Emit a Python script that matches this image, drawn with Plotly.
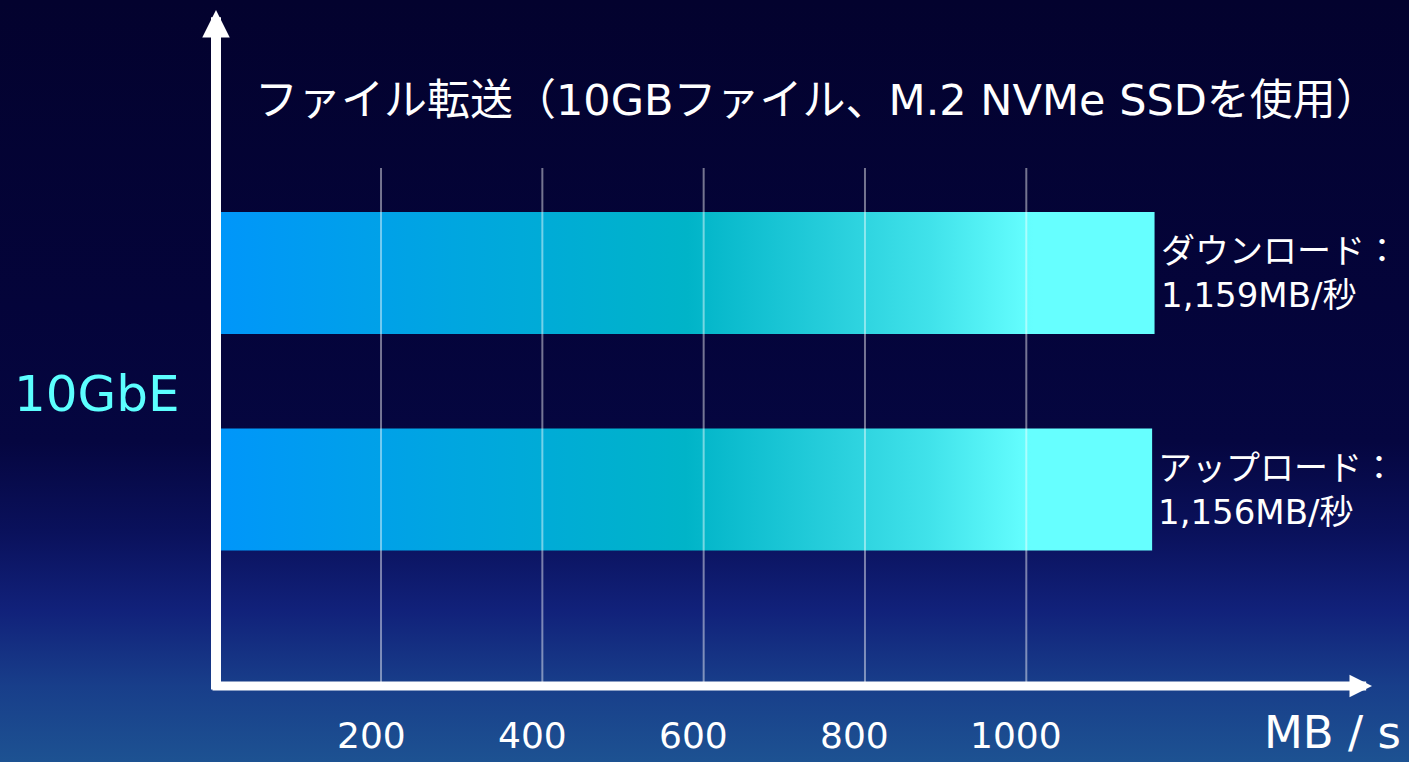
import plotly.graph_objects as go

# --- data -------------------------------------------------------------
channels = ["ダウンロード", "アップロード"]
speeds = [1159, 1156]                      # MB/s
speed_labels = ["1,159MB/秒", "1,156MB/秒"]
ticks = [200, 400, 600, 800, 1000]
title_text = "ファイル転送（10GBファイル、M.2 NVMe SSDを使用）"
group_label = "10GbE"
unit_label = "MB / s"

# --- look ---------------------------------------------------------------
W, H = 1409, 762
FONT = "DejaVu Sans, Noto Sans CJK JP, sans-serif"
WHITE = "#ffffff"
CYAN = "#5cffff"
BG_SCALE = [[0, "#1d5292"], [0.1, "#183e8a"], [0.2, "#11217a"],
            [0.3, "#0a115c"], [0.42, "#050640"], [0.6, "#04043a"], [1, "#03022e"]]
BAR_SCALE = [[0, "#0096fa"], [0.25, "#00a6e0"], [0.5, "#00b4c8"],
             [0.66, "#28cfdc"], [0.76, "#40e2ea"], [0.87, "#66ffff"], [1, "#66ffff"]]

# zero margins, so paper coords are just pixels / size
X0_PX, PX_PER_UNIT = 219.7, 0.8066
xr = [-X0_PX / PX_PER_UNIT, (W - X0_PX) / PX_PER_UNIT]
ROW_PX, TOP_ROW_PX = 216.5, 273
n = len(channels)
yr = [(n - 1) - (H - TOP_ROW_PX) / ROW_PX, (n - 1) + TOP_ROW_PX / ROW_PX]
HALF = 61 / ROW_PX


def px_x(p):
    return p / W


def px_y(p):
    return 1 - p / H


def label(text, x, y, size, color=WHITE, **kw):
    opts = dict(xref="paper", yref="paper", xanchor="center", yanchor="middle")
    opts.update(kw)
    fig.add_annotation(x=x, y=y, text=text, showarrow=False,
                       font=dict(family=FONT, size=size, color=color), **opts)


fig = go.Figure()

# background wash
fig.add_trace(go.Scatter(
    x=[xr[0], xr[1], xr[1], xr[0], xr[0]],
    y=[yr[0], yr[0], yr[1], yr[1], yr[0]],
    mode="lines", fill="toself", line=dict(width=0),
    fillgradient=dict(type="vertical", colorscale=BG_SCALE),
    hoverinfo="skip", showlegend=False,
))

# gradient bars + their labels
for i, (name, v, s) in enumerate(zip(channels, speeds, speed_labels)):
    yc = n - 1 - i
    fig.add_trace(go.Scatter(
        x=[0, v, v, 0, 0],
        y=[yc - HALF, yc - HALF, yc + HALF, yc + HALF, yc - HALF],
        mode="lines", fill="toself", line=dict(width=0),
        fillgradient=dict(type="horizontal", colorscale=BAR_SCALE, start=0, stop=v),
        name=name, hovertemplate=f"{name}: {v} MB/s<extra></extra>",
        showlegend=False,
    ))
    label(f"{name}：<br>{s}", v, yc, 34, xref="x", yref="y",
          xanchor="left", align="left", xshift=4)

# gridlines (drawn above the bars, as in the original)
for t in ticks:
    fig.add_shape(type="line", xref="x", yref="paper", x0=t, x1=t,
                  y0=px_y(688), y1=px_y(168), layer="above",
                  line=dict(color="rgba(255,255,255,0.45)", width=2))

# tick labels
for t in ticks:
    label(str(t), t, px_y(735), 36, xref="x", xshift=-10)

# axis arrows
fig.add_annotation(x=px_x(216), y=px_y(10), xref="paper", yref="paper",
                   ax=0, ay=681, text="", showarrow=True,
                   arrowhead=2, arrowsize=0.55, arrowwidth=10, arrowcolor=WHITE)
fig.add_annotation(x=px_x(1372), y=px_y(686), xref="paper", yref="paper",
                   ax=-1161, ay=0, text="", showarrow=True,
                   arrowhead=2, arrowsize=0.5, arrowwidth=9, arrowcolor=WHITE)

# texts
label(title_text, px_x(817), px_y(100), 43)
label(group_label, px_x(97), px_y(394), 50, color=CYAN)
label(unit_label, px_x(1403), px_y(732), 45, xanchor="right")

fig.update_layout(
    width=W, height=H,
    margin=dict(l=0, r=0, t=0, b=0),
    paper_bgcolor="#03022e", plot_bgcolor="rgba(0,0,0,0)",
    showlegend=False,
    xaxis=dict(range=xr, visible=False, fixedrange=True),
    yaxis=dict(range=yr, visible=False, fixedrange=True),
)

fig.write_html(
    "out.html",
    config={"displayModeBar": False},
    post_script="document.body.style.margin='0';document.body.style.overflow='hidden';",
)
